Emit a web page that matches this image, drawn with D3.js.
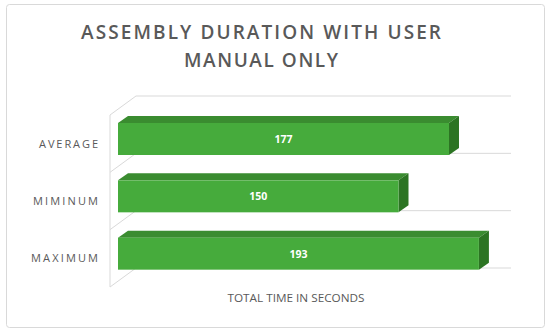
<!DOCTYPE html>
<html><head><meta charset="utf-8">
<script src="https://cdn.jsdelivr.net/npm/d3@7"></script>
<style>html,body{margin:0;padding:0;background:#fff;}</style>
</head><body>
<script>
const categories = ["AVERAGE", "MIMINUM", "MAXIMUM"];
const values = [177, 150, 193];
const titleLines = ["ASSEMBLY DURATION WITH USER", "MANUAL ONLY"];
const axisTitle = "TOTAL TIME IN SECONDS";

(function () {
const W = 550, H = 333;
const svg = d3.select("body").append("svg").attr("width", W).attr("height", H);

svg.append("rect").attr("x", 6.5).attr("y", 4.5).attr("width", 538).attr("height", 323)
  .attr("rx", 3).attr("fill", "#fff").attr("stroke", "#d9d9d9");

// titles
const titleFont = "'Open Sans', sans-serif";
const tl = [[39, 360], [67, 154]];
titleLines.forEach((t, i) => {
  svg.append("text").attr("x", 261).attr("y", tl[i][0])
    .attr("text-anchor", "middle").attr("font-family", titleFont).attr("font-weight", 600)
    .attr("font-size", 19).attr("fill", "#595959")
    .attr("textLength", tl[i][1]).attr("lengthAdjust", "spacing").text(t);
});

// scales
const x = d3.scaleLinear().domain([0, 200]).range([118, 492]);
const y = d3.scaleBand().domain(categories).range([115, 287]);
const wallX = 110, depthX = 26, depthY = -19, backRight = 511;
const grid = "#d9d9d9";

const bounds = categories.map(c => y(c)).concat([y.range()[1]]);
const g = svg.append("g");
g.selectAll("line.back").data(bounds).join("line")
  .attr("x1", wallX + depthX).attr("x2", backRight)
  .attr("y1", d => d + depthY).attr("y2", d => d + depthY)
  .attr("stroke", grid).attr("stroke-width", 1);
g.selectAll("line.diag").data(bounds).join("line")
  .attr("x1", wallX).attr("x2", wallX + depthX)
  .attr("y1", d => d).attr("y2", d => d + depthY)
  .attr("stroke", grid).attr("stroke-width", 1);
g.append("line").attr("x1", wallX).attr("x2", wallX)
  .attr("y1", y.range()[0]).attr("y2", y.range()[1]).attr("stroke", grid);

// bars
const bdx = 10, bdy = -7, barTop = 8, bh = 32;
const data = categories.map((c, i) => ({ c, v: values[i] }));
const bars = svg.selectAll("g.bar").data(data).join("g");
bars.append("path").attr("fill", "#3a8c30").attr("d", d => {
  const x0 = x(0), x1 = x(d.v), y0 = y(d.c) + barTop;
  return `M${x0},${y0}L${x0 + bdx},${y0 + bdy}L${x1 + bdx},${y0 + bdy}L${x1},${y0}Z`;
});
bars.append("path").attr("fill", "#2c7423").attr("d", d => {
  const x1 = x(d.v), y0 = y(d.c) + barTop;
  return `M${x1},${y0}L${x1 + bdx},${y0 + bdy}L${x1 + bdx},${y0 + bdy + bh}L${x1},${y0 + bh}Z`;
});
bars.append("rect").attr("fill", "#46ab3c")
  .attr("x", x(0)).attr("y", d => y(d.c) + barTop)
  .attr("width", d => x(d.v) - x(0)).attr("height", bh);
bars.append("text")
  .attr("x", d => (x(0) + x(d.v)) / 2).attr("y", d => y(d.c) + barTop + bh / 2 + 4)
  .attr("text-anchor", "middle").attr("font-family", titleFont).attr("font-weight", "bold")
  .attr("font-size", 10.5).attr("fill", "#fff").text(d => d.v);

// category labels
const labLen = { "AVERAGE": 59, "MIMINUM": 65, "MAXIMUM": 67 };
svg.selectAll("text.cat").data(categories).join("text")
  .attr("x", 98).attr("y", d => y(d) + y.bandwidth() / 2 + 4)
  .attr("text-anchor", "end").attr("font-family", titleFont)
  .attr("font-size", 11).attr("fill", "#595959")
  .attr("textLength", d => labLen[d]).attr("lengthAdjust", "spacing").text(d => d);

// axis title
svg.append("text").attr("x", 296).attr("y", 302).attr("text-anchor", "middle")
  .attr("font-family", titleFont).attr("font-size", 10).attr("fill", "#595959")
  .attr("textLength", 137).attr("lengthAdjust", "spacingAndGlyphs").text(axisTitle);
})();
</script>
</body></html>
